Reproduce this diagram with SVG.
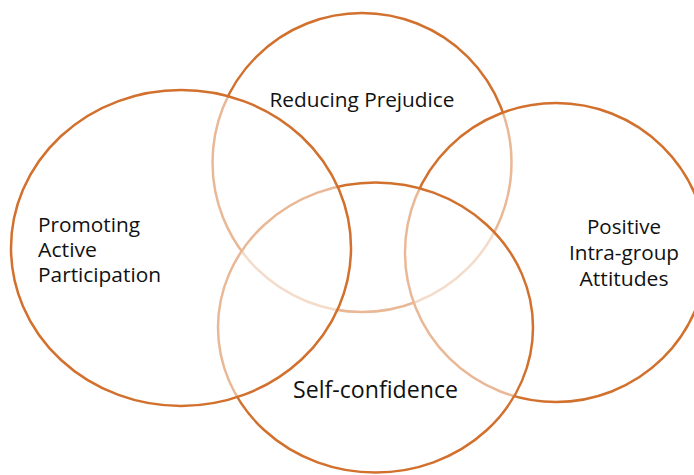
<svg xmlns="http://www.w3.org/2000/svg" width="694" height="475" viewBox="0 0 694 475">
<style>
.c{fill:#ffffff;fill-opacity:0.5;stroke:#D2702D;stroke-width:2.5}
.t{font-family:"Open Sans","Noto Sans","Liberation Sans",sans-serif;font-size:20px;fill:#111111}
.big{font-size:23px}
</style>
<rect width="694" height="475" fill="#ffffff"/>
<g id="node-reducing-prejudice">
<ellipse class="c" cx="362" cy="162.5" rx="149.5" ry="149.5"/>
<text class="t" x="362" y="107" text-anchor="middle" textLength="185" lengthAdjust="spacingAndGlyphs">Reducing Prejudice</text>
</g>
<g id="node-positive-attitudes">
<ellipse class="c" cx="556" cy="252.5" rx="151" ry="149.5"/>
<text class="t" text-anchor="middle"><tspan x="624" y="234" textLength="74" lengthAdjust="spacingAndGlyphs">Positive</tspan><tspan x="624" y="260" textLength="110" lengthAdjust="spacingAndGlyphs">Intra-group</tspan><tspan x="624" y="286" textLength="89" lengthAdjust="spacingAndGlyphs">Attitudes</tspan></text>
</g>
<g id="node-self-confidence">
<ellipse class="c" cx="375.5" cy="327.5" rx="157.5" ry="145"/>
<text class="t big" x="375.5" y="398" text-anchor="middle" textLength="165" lengthAdjust="spacingAndGlyphs">Self-confidence</text>
</g>
<g id="node-promoting-participation">
<ellipse class="c" cx="181" cy="248" rx="170" ry="158"/>
<text class="t"><tspan x="38" y="232" textLength="102" lengthAdjust="spacingAndGlyphs">Promoting</tspan><tspan x="38" y="257" textLength="59" lengthAdjust="spacingAndGlyphs">Active</tspan><tspan x="38" y="282" textLength="123" lengthAdjust="spacingAndGlyphs">Participation</tspan></text>
</g>
<g id="connectors"/>
</svg>
